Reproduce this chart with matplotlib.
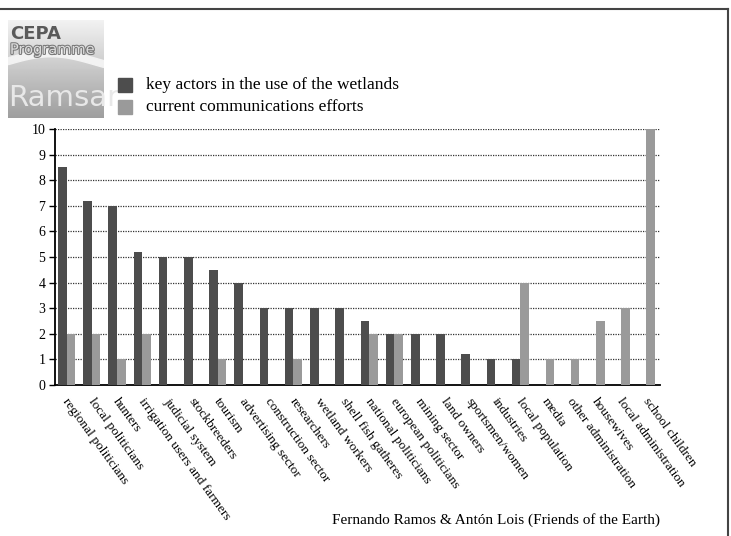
import numpy as np
import matplotlib
matplotlib.use("Agg")
import matplotlib.pyplot as plt
import matplotlib.patheffects as pe
from matplotlib.lines import Line2D
from matplotlib.patches import Rectangle

# categories and values
categories = ["regional politicians", "local politicians", "hunters",
              "irrigation users and farmers", "judicial system", "stockbreeders",
              "tourism", "advertising sector", "construction sector", "researchers",
              "wetland workers", "shell fish gatheres", "national politicians",
              "european politicians", "mining sector", "land owners",
              "sportsmen/women", "industries", "local population", "media",
              "other administration", "housewives", "local administration",
              "school children"]
key_actors = [8.5, 7.2, 7, 5.2, 5, 5, 4.5, 4, 3, 3, 3, 3, 2.5,
              2, 2, 2, 1.2, 1, 1, 0, 0, 0, 0, 0]
comm_efforts = [2, 2, 1, 2, 0, 0, 1, 0, 0, 1, 0, 0, 2,
                2, 0, 0, 0, 0, 4, 1, 1, 2.5, 3, 10]
series_names = ["key actors in the use of the wetlands",
                "current communications efforts"]
yticks = list(range(0, 11))
credit = "Fernando Ramos & Antón Lois (Friends of the Earth)"

dark = "#4d4d4d"
light = "#9a9a9a"
serif = ["Liberation Serif", "DejaVu Serif"]
plt.rcParams['font.family'] = serif

W, H = 731, 536
fig = plt.figure(figsize=(W / 100, H / 100), dpi=100)

def fx(px):
    return px / W

def fy(py):
    return 1 - py / H

ax = fig.add_axes([fx(55), fy(385), fx(660) - fx(55), fy(129) - fy(385)])

x = np.arange(len(categories))
bw = 0.34
ax.bar(x + 0.12, key_actors, width=bw, align='edge', color=dark, zorder=3)
ax.bar(x + 0.12 + bw, comm_efforts, width=bw, align='edge', color=light, zorder=3)

ax.set_xlim(0, len(categories))
ax.set_ylim(0, 10)
ax.set_yticks(yticks)
ax.set_yticklabels([str(t) for t in yticks], fontsize=10)
ax.tick_params(axis='y', direction='out', length=4, width=1, pad=3)
for t in yticks[1:]:
    ax.axhline(t, color="#333333", lw=0.9, ls=(0, (1, 1)), zorder=1)

ax.set_xticks(x + 0.6)
ax.set_xticklabels(categories, rotation=-54, rotation_mode='anchor',
                   ha='left', va='top', fontsize=9.6)
ax.tick_params(axis='x', length=0, pad=8)

for s in ["top", "right"]:
    ax.spines[s].set_visible(False)
ax.spines["left"].set_linewidth(1.3)
ax.spines["bottom"].set_linewidth(1.3)

# legend made of squares and text
fig.patches.append(Rectangle((fx(118), fy(92)), fx(14), fy(78) - fy(92),
                             transform=fig.transFigure, color=dark))
fig.patches.append(Rectangle((fx(118), fy(114)), fx(14), fy(100) - fy(114),
                             transform=fig.transFigure, color=light))
fig.text(fx(146), fy(85), series_names[0], fontsize=12.5, va='center', ha='left')
fig.text(fx(146), fy(107), series_names[1], fontsize=12.5, va='center', ha='left')

# credit line
fig.text(fx(660), fy(520), credit, fontsize=11, ha='right', va='center')

# frame lines
fig.add_artist(Line2D([0, fx(728)], [fy(9), fy(9)], color="#444444", lw=1.5))
fig.add_artist(Line2D([fx(728), fx(728)], [fy(9), 0], color="#444444", lw=1.5))

# logo approximation
lax = fig.add_axes([fx(8), fy(118), fx(95), fy(20) - fy(118)])
grad = np.linspace(0.95, 0.62, 100).reshape(-1, 1)
lax.imshow(grad, cmap='gray', vmin=0, vmax=1, aspect='auto',
           extent=[0, 1, 0, 1], origin='upper')
wx = np.linspace(0, 1, 50)
lax.fill_between(wx, 0.55 + 0.08 * np.sin(wx * 3.5), 0.62 + 0.08 * np.sin(wx * 3.5),
                 color="#f2f2f2")
lax.text(0.02, 0.86, "CEPA", fontsize=13, fontweight='bold', color="#5a5a5a",
         family="DejaVu Sans", va='center')
lax.text(0.02, 0.70, "Programme", fontsize=10.5, color="#dddddd",
         family="DejaVu Sans", va='center',
         path_effects=[pe.withStroke(linewidth=1.5, foreground="#777777")])
lax.text(0.0, 0.2, "Ramsar", fontsize=21, color="#e8e8e8", family="DejaVu Sans",
         va='center')
lax.set_xlim(0, 1)
lax.set_ylim(0, 1)
lax.axis('off')

fig.savefig("out.png", dpi=100)
